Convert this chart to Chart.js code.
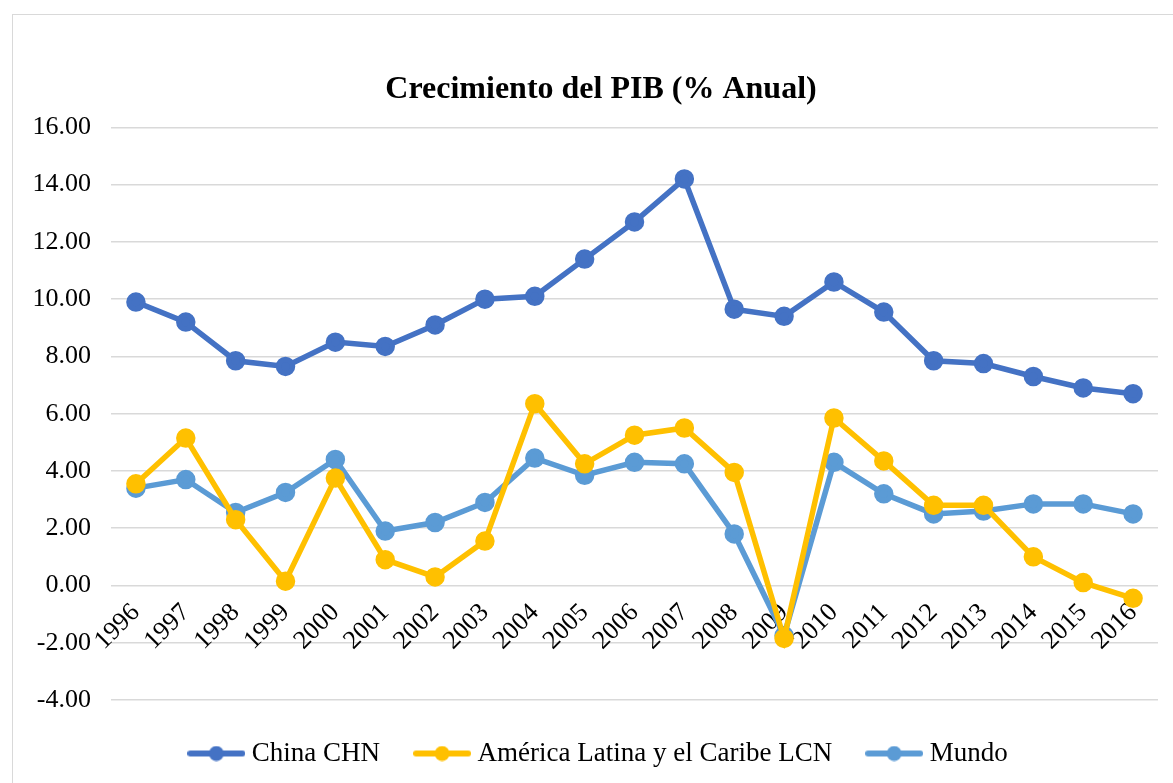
<!DOCTYPE html>
<html>
<head>
<meta charset="utf-8">
<script src="https://cdn.jsdelivr.net/npm/chart.js@4"></script>
<style>
  html, body { margin: 0; padding: 0; background: #fff; overflow: hidden; }
  #frame { position: absolute; left: 12px; top: 14px; width: 1190px; height: 800px; border: 1px solid #d9d9d9; box-sizing: border-box; }
  #wrap { position: absolute; left: 0; top: 0; width: 1176px; height: 768px; }
</style>
</head>
<body>
<div id="frame"><div id="wrap"><canvas id="pib"></canvas></div></div>
<script>
const years = ['1996','1997','1998','1999','2000','2001','2002','2003','2004','2005','2006',
  '2007','2008','2009','2010','2011','2012','2013','2014','2015','2016'];
const china = [9.9, 9.2, 7.85, 7.65, 8.5, 8.35, 9.1, 10.0, 10.1, 11.4, 12.7,
  14.2, 9.65, 9.4, 10.6, 9.55, 7.85, 7.75, 7.3, 6.9, 6.7];
const latam = [3.55, 5.15, 2.3, 0.15, 3.75, 0.9, 0.3, 1.55, 6.35, 4.25, 5.25,
  5.5, 3.95, -1.85, 5.85, 4.35, 2.8, 2.8, 1.0, 0.1, -0.45];
const mundo = [3.4, 3.7, 2.55, 3.25, 4.4, 1.9, 2.2, 2.9, 4.45, 3.85, 4.3,
  4.25, 1.8, -1.75, 4.3, 3.2, 2.5, 2.6, 2.85, 2.85, 2.5];
const yTicks = [-4, -2, 0, 2, 4, 6, 8, 10, 12, 14, 16];

const FONT = "'Liberation Serif', 'Times New Roman', serif";

// little line + dot swatch for the legend
function swatch(color) {
  const c = document.createElement('canvas');
  c.width = 58; c.height = 16;
  const g = c.getContext('2d');
  g.strokeStyle = color; g.lineWidth = 6; g.lineCap = 'round';
  g.beginPath(); g.moveTo(3, 8); g.lineTo(55, 8); g.stroke();
  g.fillStyle = color;
  g.beginPath(); g.arc(29, 8, 7.5, 0, Math.PI * 2); g.fill();
  return c;
}

function series(label, data, color) {
  return {
    label, data,
    borderColor: color, backgroundColor: color,
    pointBackgroundColor: color, pointBorderColor: color,
    borderWidth: 5.5, pointRadius: 7, pointHoverRadius: 7,
    pointStyle: 'circle', tension: 0
  };
}

new Chart(document.getElementById('pib'), {
  type: 'line',
  data: {
    labels: years,
    datasets: [
      series('China CHN', china, '#4472c4'),
      series('América Latina y el Caribe LCN', latam, '#ffc000'),
      series('Mundo', mundo, '#5b9bd5')
    ]
  },
  options: {
    responsive: true,
    maintainAspectRatio: false,
    animation: false,
    layout: { padding: { top: 0, right: 0, bottom: 6, left: 0 } },
    plugins: {
      title: {
        display: true,
        text: 'Crecimiento del PIB (% Anual)',
        color: '#000',
        font: { family: FONT, size: 32, weight: 'bold' },
        padding: { top: 56, bottom: 18 }
      },
      legend: {
        position: 'bottom',
        labels: {
          color: '#000',
          font: { family: FONT, size: 27 },
          usePointStyle: true,
          pointStyleWidth: 44,
          padding: 40,
          generateLabels(chart) {
            return chart.data.datasets.map((ds, i) => ({
              text: ds.label,
              fillStyle: ds.borderColor,
              strokeStyle: ds.borderColor,
              lineWidth: 0,
              pointStyle: swatch(ds.borderColor),
              fontColor: '#000',
              datasetIndex: i
            }));
          }
        }
      },
      tooltip: { enabled: false }
    },
    scales: {
      x: {
        position: { y: 0 },
        offset: true,
        grid: { display: false },
        border: { display: false },
        ticks: {
          color: '#000',
          font: { family: FONT, size: 26 },
          autoSkip: false,
          minRotation: 45,
          maxRotation: 45,
          padding: 4
        }
      },
      y: {
        min: -4, max: 16,
        afterBuildTicks(scale) { scale.ticks = yTicks.map(v => ({ value: v })); },
        afterFit(scale) { scale.width = 98; },
        grid: { color: '#d9d9d9', lineWidth: 1.5, drawTicks: false },
        border: { display: false },
        ticks: {
          color: '#000',
          font: { family: FONT, size: 26 },
          padding: 20,
          callback: v => Number(v).toFixed(2)
        }
      },
      // empty right-hand margin so the title and legend stay centred on the whole box
      yPad: {
        position: 'right',
        min: -4, max: 16,
        afterFit(scale) { scale.width = 31; },
        grid: { display: false, drawTicks: false },
        border: { display: false },
        ticks: { display: false }
      }
    }
  }
});
</script>
</body>
</html>
